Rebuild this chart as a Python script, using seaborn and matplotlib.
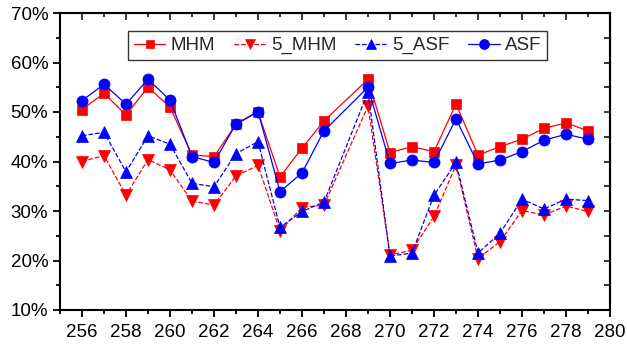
import matplotlib
matplotlib.use("Agg")
import matplotlib.pyplot as plt
import seaborn as sns
import numpy as np
from matplotlib.ticker import MultipleLocator, PercentFormatter

x = [256, 257, 258, 259, 260, 261, 262, 263, 264, 265, 266, 267,
     269, 270, 271, 272, 273, 274, 275, 276, 277, 278, 279]

mhm = [50.5, 53.8, 49.4, 55.0, 51.0, 41.3, 41.0, 47.5, 50.0, 36.9, 42.7, 48.2,
       56.6, 41.8, 43.0, 42.0, 51.6, 41.3, 43.0, 44.5, 46.7, 47.8, 46.2]
mhm5 = [40.0, 41.2, 33.2, 40.4, 38.3, 32.0, 31.2, 37.1, 39.2, 26.0, 30.7, 31.2,
        51.2, 21.1, 22.1, 28.9, 39.3, 20.4, 23.8, 30.1, 29.2, 31.0, 29.9]
asf5 = [45.2, 45.9, 37.9, 45.2, 43.5, 35.6, 34.9, 41.6, 44.0, 26.7, 29.9, 31.8,
        54.0, 20.9, 21.5, 33.2, 39.8, 21.5, 25.5, 32.4, 30.4, 32.4, 32.1]
asf = [52.3, 55.6, 51.6, 56.6, 52.4, 41.0, 39.8, 47.6, 50.1, 33.9, 37.7, 46.2,
       55.0, 39.6, 40.3, 39.8, 48.6, 39.5, 40.3, 42.0, 44.3, 45.5, 44.5]

labels = ["MHM", "5_MHM", "5_ASF", "ASF"]

sns.set_theme(style="white")
plt.rcParams['font.family'] = ['Liberation Sans', 'DejaVu Sans']

fig = plt.figure(figsize=(6.27, 3.48), dpi=100)
ax = fig.add_axes([60/627, 1-310/348, 550/627, 297/348])

red = "#FF0000"
blue = "#0000FF"
specs = [
    (mhm, labels[0], red, "s", "-", 7),
    (mhm5, labels[1], red, "v", "--", 8),
    (asf5, labels[2], blue, "^", "--", 8),
    (asf, labels[3], blue, "o", "-", 8),
]
for ys, lab, col, mk, ls, ms in specs:
    sns.lineplot(x=x, y=ys, ax=ax, color=col, marker=mk, linestyle=ls,
                 linewidth=0.9, markersize=ms, markeredgecolor=col,
                 markeredgewidth=0.5, label=lab)

ax.set_xlim(255, 280)
ax.set_ylim(10, 70)
ax.xaxis.set_major_locator(MultipleLocator(2))
ax.xaxis.set_minor_locator(MultipleLocator(1))
ax.yaxis.set_major_locator(MultipleLocator(10))
ax.yaxis.set_minor_locator(MultipleLocator(5))
ax.yaxis.set_major_formatter(PercentFormatter(decimals=0))

for s in ax.spines.values():
    s.set_linewidth(1.5)
    s.set_color("black")

ax.tick_params(which="both", direction="out", colors="black", width=1.3,
               bottom=True, left=True, labelsize=13.5)
ax.tick_params(which="major", length=5)
ax.tick_params(which="minor", length=3)
ax.tick_params(axis="x", which="major", pad=5)

sec_x = ax.secondary_xaxis("top")
sec_x.xaxis.set_major_locator(MultipleLocator(2))
sec_x.xaxis.set_minor_locator(MultipleLocator(1))
sec_x.tick_params(which="both", direction="in", width=1.3, labeltop=False, top=True)
sec_x.tick_params(which="major", length=5)
sec_x.tick_params(which="minor", length=3)
sec_x.spines["top"].set_linewidth(1.5)

sec_y = ax.secondary_yaxis("right")
sec_y.yaxis.set_major_locator(MultipleLocator(10))
sec_y.yaxis.set_minor_locator(MultipleLocator(5))
sec_y.tick_params(which="both", direction="in", width=1.3, labelright=False, right=True)
sec_y.tick_params(which="major", length=4)
sec_y.tick_params(which="minor", length=4)
sec_y.spines["right"].set_linewidth(1.5)

leg = ax.legend(loc="center", bbox_to_anchor=(0.5045, 0.89), ncol=4,
                fontsize=13.5, frameon=True, fancybox=False, handlelength=1.7,
                columnspacing=1.0, handletextpad=0.27, borderpad=0.3,
                markerscale=0.9)
leg.get_frame().set_edgecolor("black")
leg.get_frame().set_linewidth(1.0)

ax.set_xlabel("")
ax.set_ylabel("")
fig.savefig("out.png", dpi=100)
